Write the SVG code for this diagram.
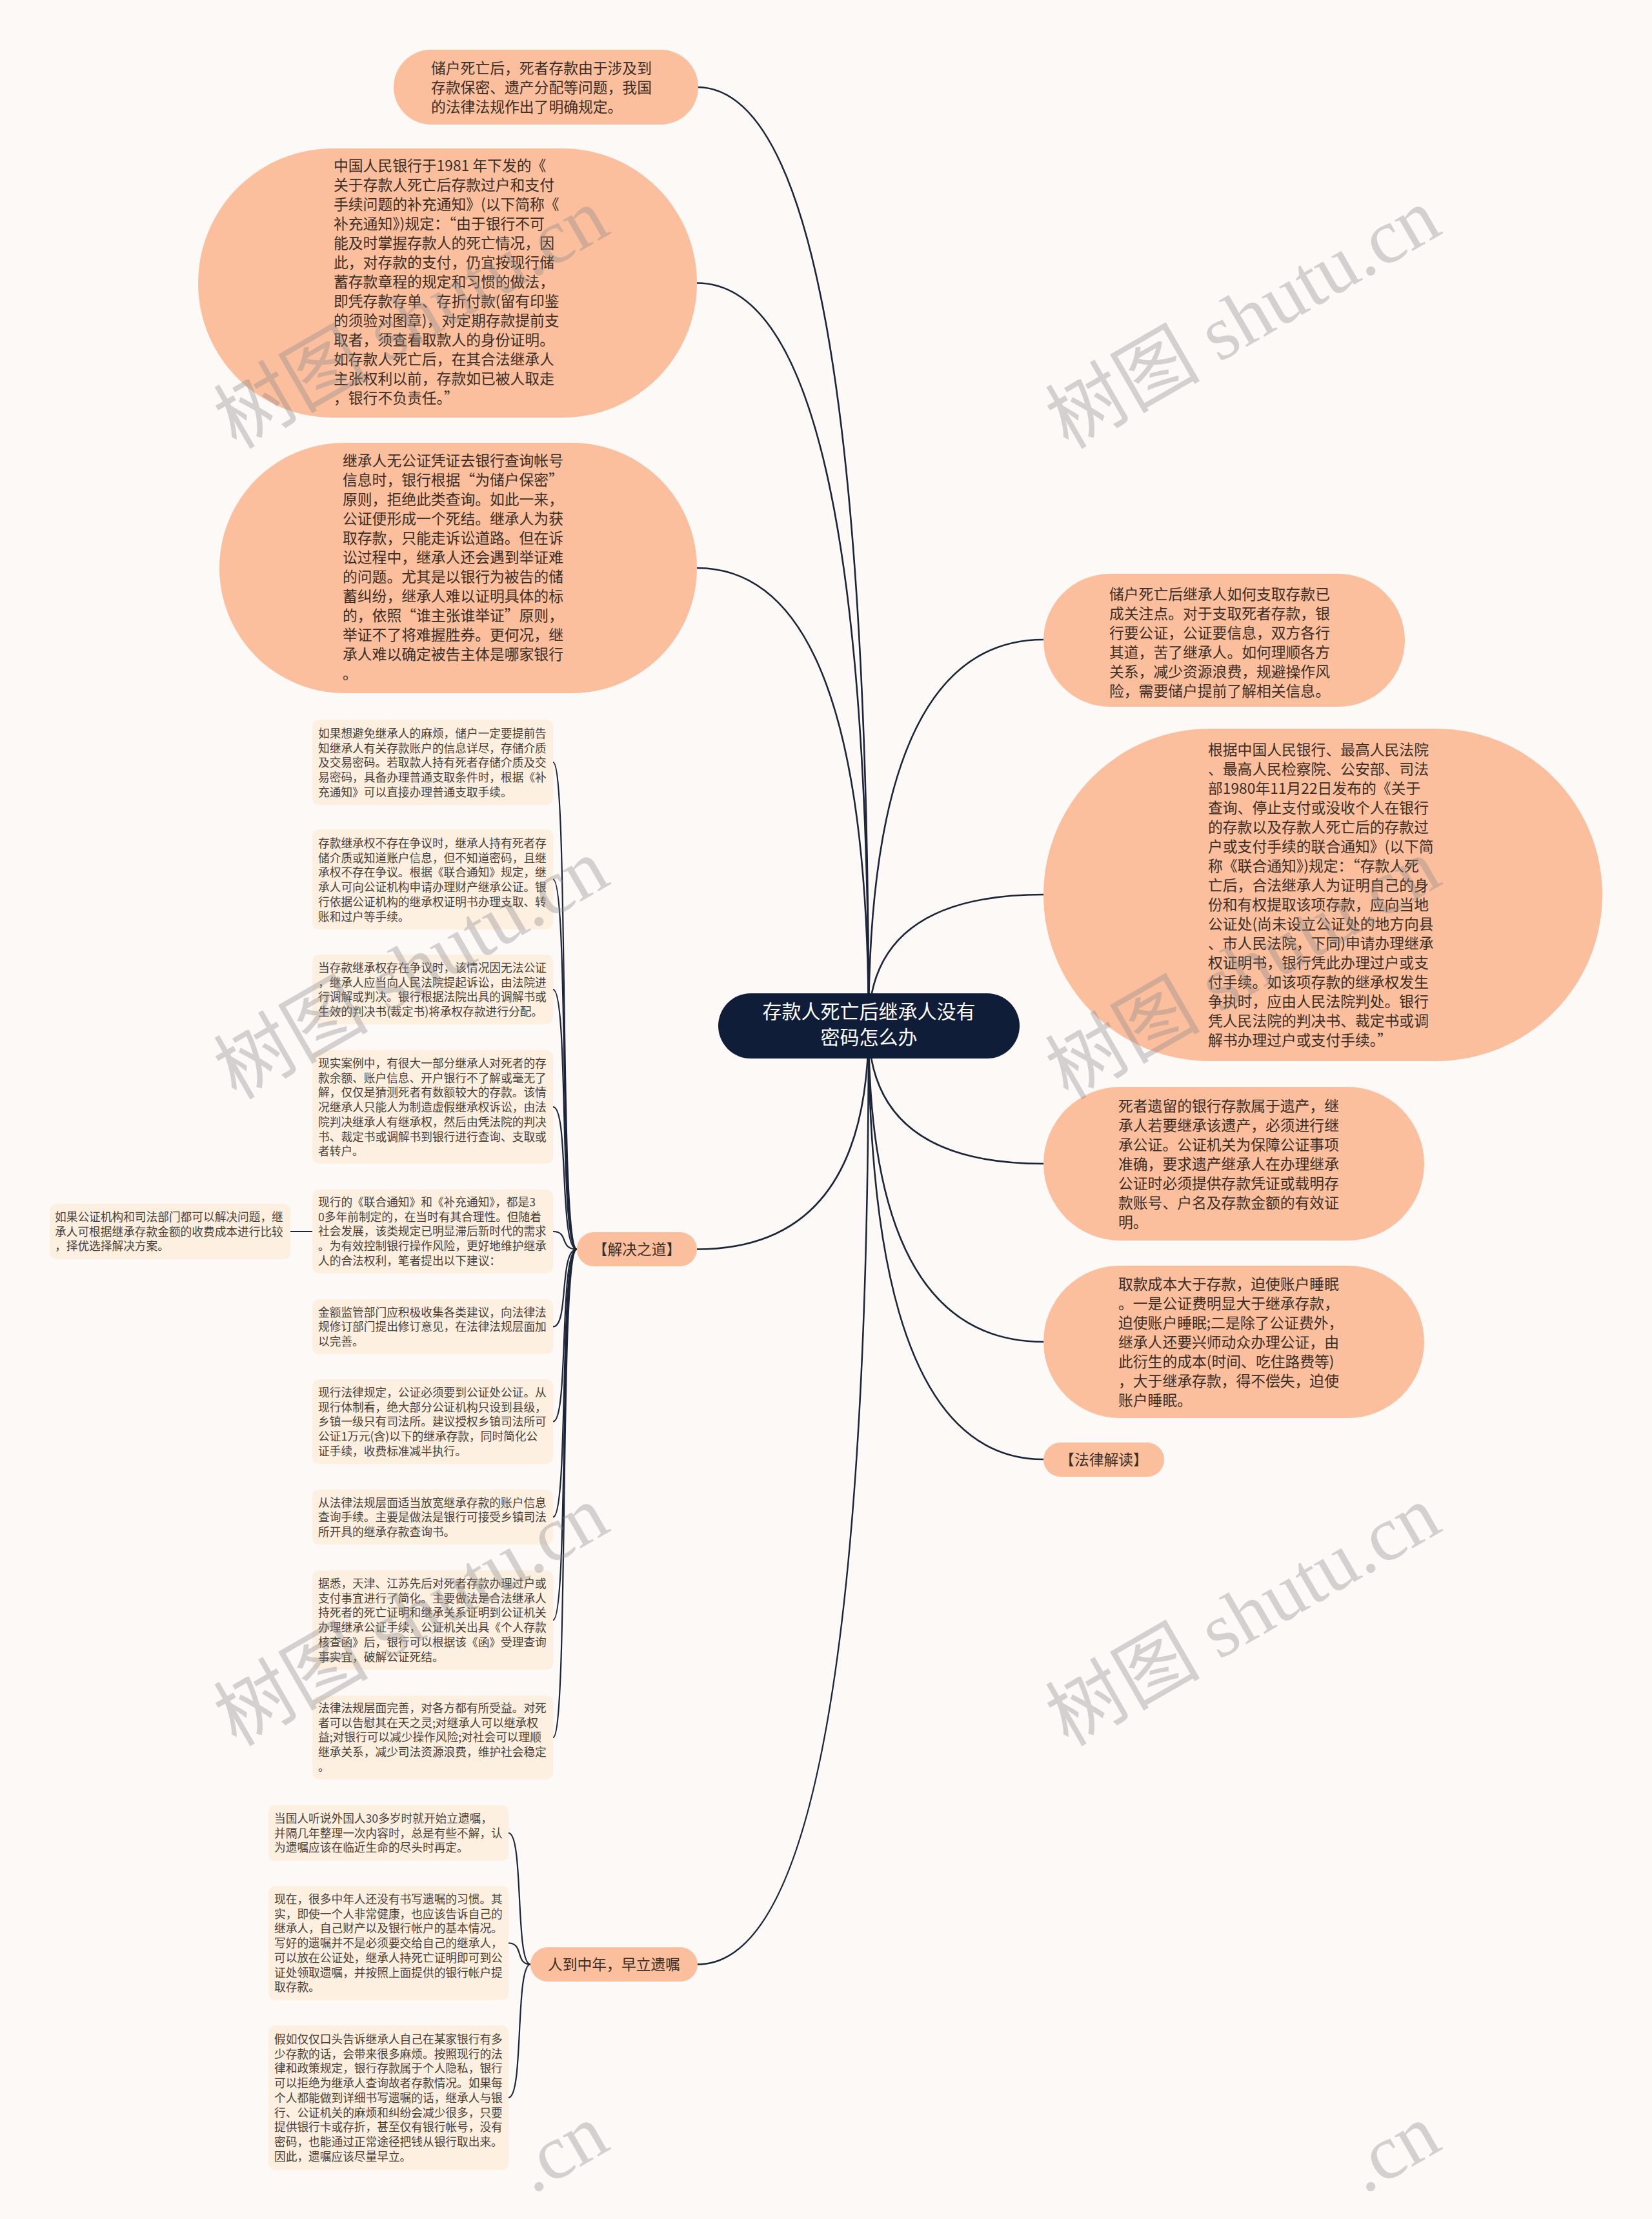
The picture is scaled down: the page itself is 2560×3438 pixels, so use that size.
<svg xmlns="http://www.w3.org/2000/svg" width="2560" height="3438" viewBox="0 0 2560 3438">
<style>
.bg{fill:#fdf9f7}
.big{fill:#fcbf9d}
.small{fill:#fdf0e1}
.tb{font-family:"Noto Sans CJK SC","Noto Sans",sans-serif;font-size:22.8px;fill:#3a2e26}
.ts{font-family:"Noto Sans CJK SC","Noto Sans",sans-serif;font-size:17.7px;fill:#4a4038}
.tc{font-family:"Noto Sans CJK SC","Noto Sans",sans-serif;font-size:30px;fill:#ffffff;text-anchor:middle}
.conn{fill:none;stroke:#1b2438;stroke-width:2.6}
.conn2{fill:none;stroke:#1b2438;stroke-width:2.2}
.wm{font-family:"Liberation Serif","Noto Sans CJK SC",serif;font-size:120px;fill:#8a8a8a;opacity:0.36}
</style>
<rect class="bg" x="0" y="0" width="2560" height="3438"/>
<g id="connectors">
<path class="conn" d="M1346,1590 Q1346,135 1080,135"/>
<path class="conn" d="M1346,1590 Q1346,438.5 1080,438.5"/>
<path class="conn" d="M1346,1590 Q1346,880 1080,880"/>
<path class="conn" d="M1346,1590 Q1346,1935.5 1080,1935.5"/>
<path class="conn" d="M1346,1590 Q1346,3043.5 1081,3043.5"/>
<path class="conn" d="M1346,1590 Q1346,991 1617,991"/>
<path class="conn" d="M1346,1590 Q1346,1386 1617,1386"/>
<path class="conn" d="M1346,1590 Q1346,1803 1617,1803"/>
<path class="conn" d="M1346,1590 Q1346,2079 1617,2079"/>
<path class="conn" d="M1346,1590 Q1346,2261 1617,2261"/>
<path class="conn2" d="M894,1935.5 C866,1935.5 882,1181 857,1181"/>
<path class="conn2" d="M894,1935.5 C866,1935.5 882,1362.5 857,1362.5"/>
<path class="conn2" d="M894,1935.5 C866,1935.5 882,1533 857,1533"/>
<path class="conn2" d="M894,1935.5 C866,1935.5 882,1715 857,1715"/>
<path class="conn2" d="M894,1935.5 C866,1935.5 882,1908 857,1908"/>
<path class="conn2" d="M894,1935.5 C866,1935.5 882,2055.5 857,2055.5"/>
<path class="conn2" d="M894,1935.5 C866,1935.5 882,2202.5 857,2202.5"/>
<path class="conn2" d="M894,1935.5 C866,1935.5 882,2350.5 857,2350.5"/>
<path class="conn2" d="M894,1935.5 C866,1935.5 882,2510 857,2510"/>
<path class="conn2" d="M894,1935.5 C866,1935.5 882,2692 857,2692"/>
<path class="conn2" d="M484,1908 L450,1908"/>
<path class="conn2" d="M822,3043.5 C798,3043.5 812,2840 788,2840"/>
<path class="conn2" d="M822,3043.5 C798,3043.5 812,3010.5 788,3010.5"/>
<path class="conn2" d="M822,3043.5 C798,3043.5 812,3250 788,3250"/>
</g>
<g id="center">
<rect x="1113" y="1539" width="467" height="101" rx="50.5" fill="#0f1d38"/>
<text class="tc"><tspan x="1346.5" y="1578">存款人死亡后继承人没有</tspan><tspan x="1346.5" y="1618">密码怎么办</tspan></text>
</g>
<g id="nodeA">
<rect class="big" x="610" y="77" width="472" height="116" rx="58"/>
<text class="tb"><tspan x="668" y="114">储户死亡后，死者存款由于涉及到</tspan><tspan x="668" y="144">存款保密、遗产分配等问题，我国</tspan><tspan x="668" y="174">的法律法规作出了明确规定。</tspan></text>
</g>
<g id="nodeB">
<rect class="big" x="307" y="230" width="773" height="417" rx="208.5"/>
<text class="tb"><tspan x="517" y="265">中国人民银行于1981 年下发的《</tspan><tspan x="517" y="295">关于存款人死亡后存款过户和支付</tspan><tspan x="517" y="325">手续问题的补充通知》(以下简称《</tspan><tspan x="517" y="355">补充通知》)规定：“由于银行不可</tspan><tspan x="517" y="385">能及时掌握存款人的死亡情况，因</tspan><tspan x="517" y="415">此，对存款的支付，仍宜按现行储</tspan><tspan x="517" y="445">蓄存款章程的规定和习惯的做法，</tspan><tspan x="517" y="475">即凭存款存单、存折付款(留有印鉴</tspan><tspan x="517" y="505">的须验对图章)，对定期存款提前支</tspan><tspan x="517" y="535">取者，须查看取款人的身份证明。</tspan><tspan x="517" y="565">如存款人死亡后，在其合法继承人</tspan><tspan x="517" y="595">主张权利以前，存款如已被人取走</tspan><tspan x="517" y="625">，银行不负责任。”</tspan></text>
</g>
<g id="nodeC">
<rect class="big" x="340" y="686" width="740" height="388" rx="194"/>
<text class="tb"><tspan x="531" y="722">继承人无公证凭证去银行查询帐号</tspan><tspan x="531" y="752">信息时，银行根据“为储户保密”</tspan><tspan x="531" y="782">原则，拒绝此类查询。如此一来，</tspan><tspan x="531" y="812">公证便形成一个死结。继承人为获</tspan><tspan x="531" y="842">取存款，只能走诉讼道路。但在诉</tspan><tspan x="531" y="872">讼过程中，继承人还会遇到举证难</tspan><tspan x="531" y="902">的问题。尤其是以银行为被告的储</tspan><tspan x="531" y="932">蓄纠纷，继承人难以证明具体的标</tspan><tspan x="531" y="962">的，依照“谁主张谁举证”原则，</tspan><tspan x="531" y="992">举证不了将难握胜券。更何况，继</tspan><tspan x="531" y="1022">承人难以确定被告主体是哪家银行</tspan><tspan x="531" y="1052">。</tspan></text>
</g>
<g id="nodeD">
<rect class="big" x="1617" y="889" width="560" height="206" rx="103"/>
<text class="tb"><tspan x="1719" y="929">储户死亡后继承人如何支取存款已</tspan><tspan x="1719" y="959">成关注点。对于支取死者存款，银</tspan><tspan x="1719" y="989">行要公证，公证要信息，双方各行</tspan><tspan x="1719" y="1019">其道，苦了继承人。如何理顺各方</tspan><tspan x="1719" y="1049">关系，减少资源浪费，规避操作风</tspan><tspan x="1719" y="1079">险，需要储户提前了解相关信息。</tspan></text>
</g>
<g id="nodeE">
<rect class="big" x="1617" y="1129" width="866" height="515" rx="257.5"/>
<text class="tb"><tspan x="1872" y="1170">根据中国人民银行、最高人民法院</tspan><tspan x="1872" y="1200">、最高人民检察院、公安部、司法</tspan><tspan x="1872" y="1230">部1980年11月22日发布的《关于</tspan><tspan x="1872" y="1260">查询、停止支付或没收个人在银行</tspan><tspan x="1872" y="1290">的存款以及存款人死亡后的存款过</tspan><tspan x="1872" y="1320">户或支付手续的联合通知》(以下简</tspan><tspan x="1872" y="1350">称《联合通知》)规定：“存款人死</tspan><tspan x="1872" y="1380">亡后，合法继承人为证明自己的身</tspan><tspan x="1872" y="1410">份和有权提取该项存款，应向当地</tspan><tspan x="1872" y="1440">公证处(尚未设立公证处的地方向县</tspan><tspan x="1872" y="1470">、市人民法院，下同)申请办理继承</tspan><tspan x="1872" y="1500">权证明书，银行凭此办理过户或支</tspan><tspan x="1872" y="1530">付手续。如该项存款的继承权发生</tspan><tspan x="1872" y="1560">争执时，应由人民法院判处。银行</tspan><tspan x="1872" y="1590">凭人民法院的判决书、裁定书或调</tspan><tspan x="1872" y="1620">解书办理过户或支付手续。”</tspan></text>
</g>
<g id="nodeF">
<rect class="big" x="1617" y="1684" width="590" height="238" rx="119"/>
<text class="tb"><tspan x="1733" y="1722">死者遗留的银行存款属于遗产，继</tspan><tspan x="1733" y="1752">承人若要继承该遗产，必须进行继</tspan><tspan x="1733" y="1782">承公证。公证机关为保障公证事项</tspan><tspan x="1733" y="1812">准确，要求遗产继承人在办理继承</tspan><tspan x="1733" y="1842">公证时必须提供存款凭证或载明存</tspan><tspan x="1733" y="1872">款账号、户名及存款金额的有效证</tspan><tspan x="1733" y="1902">明。</tspan></text>
</g>
<g id="nodeG">
<rect class="big" x="1617" y="1961" width="590" height="236" rx="118"/>
<text class="tb"><tspan x="1733" y="1998">取款成本大于存款，迫使账户睡眠</tspan><tspan x="1733" y="2028">。一是公证费明显大于继承存款，</tspan><tspan x="1733" y="2058">迫使账户睡眠;二是除了公证费外，</tspan><tspan x="1733" y="2088">继承人还要兴师动众办理公证，由</tspan><tspan x="1733" y="2118">此衍生的成本(时间、吃住路费等)</tspan><tspan x="1733" y="2148">，大于继承存款，得不偿失，迫使</tspan><tspan x="1733" y="2178">账户睡眠。</tspan></text>
</g>
<g id="nodeH">
<rect class="big" x="1617" y="2235" width="187" height="53" rx="26.5"/>
<text class="tb" text-anchor="middle" x="1710.5" y="2270">【法律解读】</text>
</g>
<g id="nodeSolve">
<rect class="big" x="894" y="1909" width="186" height="53" rx="26.5"/>
<text class="tb" text-anchor="middle" x="987" y="1944">【解决之道】</text>
</g>
<g id="nodeWill">
<rect class="big" x="822" y="3017" width="259" height="53" rx="26.5"/>
<text class="tb" text-anchor="middle" x="951.5" y="3052">人到中年，早立遗嘱</text>
</g>
<g id="s1">
<rect class="small" x="484" y="1115" width="373" height="132" rx="10"/>
<text class="ts"><tspan x="493" y="1143">如果想避免继承人的麻烦，储户一定要提前告</tspan><tspan x="493" y="1165.7">知继承人有关存款账户的信息详尽，存储介质</tspan><tspan x="493" y="1188.4">及交易密码。若取款人持有死者存储介质及交</tspan><tspan x="493" y="1211.1">易密码，具备办理普通支取条件时，根据《补</tspan><tspan x="493" y="1233.8">充通知》可以直接办理普通支取手续。</tspan></text>
</g>
<g id="s2">
<rect class="small" x="484" y="1285" width="373" height="155" rx="10"/>
<text class="ts"><tspan x="493" y="1313">存款继承权不存在争议时，继承人持有死者存</tspan><tspan x="493" y="1335.7">储介质或知道账户信息，但不知道密码，且继</tspan><tspan x="493" y="1358.4">承权不存在争议。根据《联合通知》规定，继</tspan><tspan x="493" y="1381.1">承人可向公证机构申请办理财产继承公证。银</tspan><tspan x="493" y="1403.8">行依据公证机构的继承权证明书办理支取、转</tspan><tspan x="493" y="1426.5">账和过户等手续。</tspan></text>
</g>
<g id="s3">
<rect class="small" x="484" y="1479" width="373" height="108" rx="10"/>
<text class="ts"><tspan x="493" y="1506">当存款继承权存在争议时，该情况因无法公证</tspan><tspan x="493" y="1528.7">，继承人应当向人民法院提起诉讼，由法院进</tspan><tspan x="493" y="1551.4">行调解或判决。银行根据法院出具的调解书或</tspan><tspan x="493" y="1574.1">生效的判决书(裁定书)将承权存款进行分配。</tspan></text>
</g>
<g id="s4">
<rect class="small" x="484" y="1627" width="373" height="176" rx="10"/>
<text class="ts"><tspan x="493" y="1654">现实案例中，有很大一部分继承人对死者的存</tspan><tspan x="493" y="1676.7">款余额、账户信息、开户银行不了解或毫无了</tspan><tspan x="493" y="1699.4">解，仅仅是猜测死者有数额较大的存款。该情</tspan><tspan x="493" y="1722.1">况继承人只能人为制造虚假继承权诉讼，由法</tspan><tspan x="493" y="1744.8">院判决继承人有继承权，然后由凭法院的判决</tspan><tspan x="493" y="1767.5">书、裁定书或调解书到银行进行查询、支取或</tspan><tspan x="493" y="1790.2">者转户。</tspan></text>
</g>
<g id="s5">
<rect class="small" x="484" y="1843" width="373" height="130" rx="10"/>
<text class="ts"><tspan x="493" y="1869">现行的《联合通知》和《补充通知》，都是3</tspan><tspan x="493" y="1891.7">0多年前制定的，在当时有其合理性。但随着</tspan><tspan x="493" y="1914.4">社会发展，该类规定已明显滞后新时代的需求</tspan><tspan x="493" y="1937.1">。为有效控制银行操作风险，更好地维护继承</tspan><tspan x="493" y="1959.8">人的合法权利，笔者提出以下建议：</tspan></text>
</g>
<g id="l1">
<rect class="small" x="77" y="1865" width="373" height="86" rx="10"/>
<text class="ts"><tspan x="85" y="1892">如果公证机构和司法部门都可以解决问题，继</tspan><tspan x="85" y="1914.7">承人可根据继承存款金额的收费成本进行比较</tspan><tspan x="85" y="1937.4">，择优选择解决方案。</tspan></text>
</g>
<g id="s6">
<rect class="small" x="484" y="2013" width="373" height="85" rx="10"/>
<text class="ts"><tspan x="493" y="2039.5">金额监管部门应积极收集各类建议，向法律法</tspan><tspan x="493" y="2062.2">规修订部门提出修订意见，在法律法规层面加</tspan><tspan x="493" y="2084.9">以完善。</tspan></text>
</g>
<g id="s7">
<rect class="small" x="484" y="2137" width="373" height="131" rx="10"/>
<text class="ts"><tspan x="493" y="2164">现行法律规定，公证必须要到公证处公证。从</tspan><tspan x="493" y="2186.7">现行体制看，绝大部分公证机构只设到县级，</tspan><tspan x="493" y="2209.4">乡镇一级只有司法所。建议授权乡镇司法所可</tspan><tspan x="493" y="2232.1">公证1万元(含)以下的继承存款，同时简化公</tspan><tspan x="493" y="2254.8">证手续，收费标准减半执行。</tspan></text>
</g>
<g id="s8">
<rect class="small" x="484" y="2308" width="373" height="85" rx="10"/>
<text class="ts"><tspan x="493" y="2334.5">从法律法规层面适当放宽继承存款的账户信息</tspan><tspan x="493" y="2357.2">查询手续。主要是做法是银行可接受乡镇司法</tspan><tspan x="493" y="2379.9">所开具的继承存款查询书。</tspan></text>
</g>
<g id="s9">
<rect class="small" x="484" y="2433" width="373" height="154" rx="10"/>
<text class="ts"><tspan x="493" y="2460">据悉，天津、江苏先后对死者存款办理过户或</tspan><tspan x="493" y="2482.7">支付事宜进行了简化。主要做法是合法继承人</tspan><tspan x="493" y="2505.4">持死者的死亡证明和继承关系证明到公证机关</tspan><tspan x="493" y="2528.1">办理继承公证手续，公证机关出具《个人存款</tspan><tspan x="493" y="2550.8">核查函》后，银行可以根据该《函》受理查询</tspan><tspan x="493" y="2573.5">事实宜，破解公证死结。</tspan></text>
</g>
<g id="s10">
<rect class="small" x="484" y="2627" width="373" height="130" rx="10"/>
<text class="ts"><tspan x="493" y="2653">法律法规层面完善，对各方都有所受益。对死</tspan><tspan x="493" y="2675.7">者可以告慰其在天之灵;对继承人可以继承权</tspan><tspan x="493" y="2698.4">益;对银行可以减少操作风险;对社会可以理顺</tspan><tspan x="493" y="2721.1">继承关系，减少司法资源浪费，维护社会稳定</tspan><tspan x="493" y="2743.8">。</tspan></text>
</g>
<g id="b1">
<rect class="small" x="416" y="2797" width="372" height="86" rx="10"/>
<text class="ts"><tspan x="425" y="2824">当国人听说外国人30多岁时就开始立遗嘱，</tspan><tspan x="425" y="2846.7">并隔几年整理一次内容时，总是有些不解，认</tspan><tspan x="425" y="2869.4">为遗嘱应该在临近生命的尽头时再定。</tspan></text>
</g>
<g id="b2">
<rect class="small" x="416" y="2922" width="372" height="177" rx="10"/>
<text class="ts"><tspan x="425" y="2949">现在，很多中年人还没有书写遗嘱的习惯。其</tspan><tspan x="425" y="2971.7">实，即使一个人非常健康，也应该告诉自己的</tspan><tspan x="425" y="2994.4">继承人，自己财产以及银行帐户的基本情况。</tspan><tspan x="425" y="3017.1">写好的遗嘱并不是必须要交给自己的继承人，</tspan><tspan x="425" y="3039.8">可以放在公证处，继承人持死亡证明即可到公</tspan><tspan x="425" y="3062.5">证处领取遗嘱，并按照上面提供的银行帐户提</tspan><tspan x="425" y="3085.2">取存款。</tspan></text>
</g>
<g id="b3">
<rect class="small" x="416" y="3138" width="372" height="224" rx="10"/>
<text class="ts"><tspan x="425" y="3166">假如仅仅口头告诉继承人自己在某家银行有多</tspan><tspan x="425" y="3188.7">少存款的话，会带来很多麻烦。按照现行的法</tspan><tspan x="425" y="3211.4">律和政策规定，银行存款属于个人隐私，银行</tspan><tspan x="425" y="3234.1">可以拒绝为继承人查询故者存款情况。如果每</tspan><tspan x="425" y="3256.8">个人都能做到详细书写遗嘱的话，继承人与银</tspan><tspan x="425" y="3279.5">行、公证机关的麻烦和纠纷会减少很多，只要</tspan><tspan x="425" y="3302.2">提供银行卡或存折，甚至仅有银行帐号，没有</tspan><tspan x="425" y="3324.9">密码，也能通过正常途径把钱从银行取出来。</tspan><tspan x="425" y="3347.6">因此，遗嘱应该尽量早立。</tspan></text>
</g>
<g id="watermark">
<text class="wm" transform="translate(366,697) rotate(-30)">树图 shutu.cn</text>
<text class="wm" transform="translate(366,1705) rotate(-30)">树图 shutu.cn</text>
<text class="wm" transform="translate(366,2707) rotate(-30)">树图 shutu.cn</text>
<text class="wm" transform="translate(825,3400) rotate(-30)">.cn</text>
<text class="wm" transform="translate(1655,697) rotate(-30)">树图 shutu.cn</text>
<text class="wm" transform="translate(1655,1705) rotate(-30)">树图 shutu.cn</text>
<text class="wm" transform="translate(1655,2707) rotate(-30)">树图 shutu.cn</text>
<text class="wm" transform="translate(2114,3400) rotate(-30)">.cn</text>
</g>
</svg>
